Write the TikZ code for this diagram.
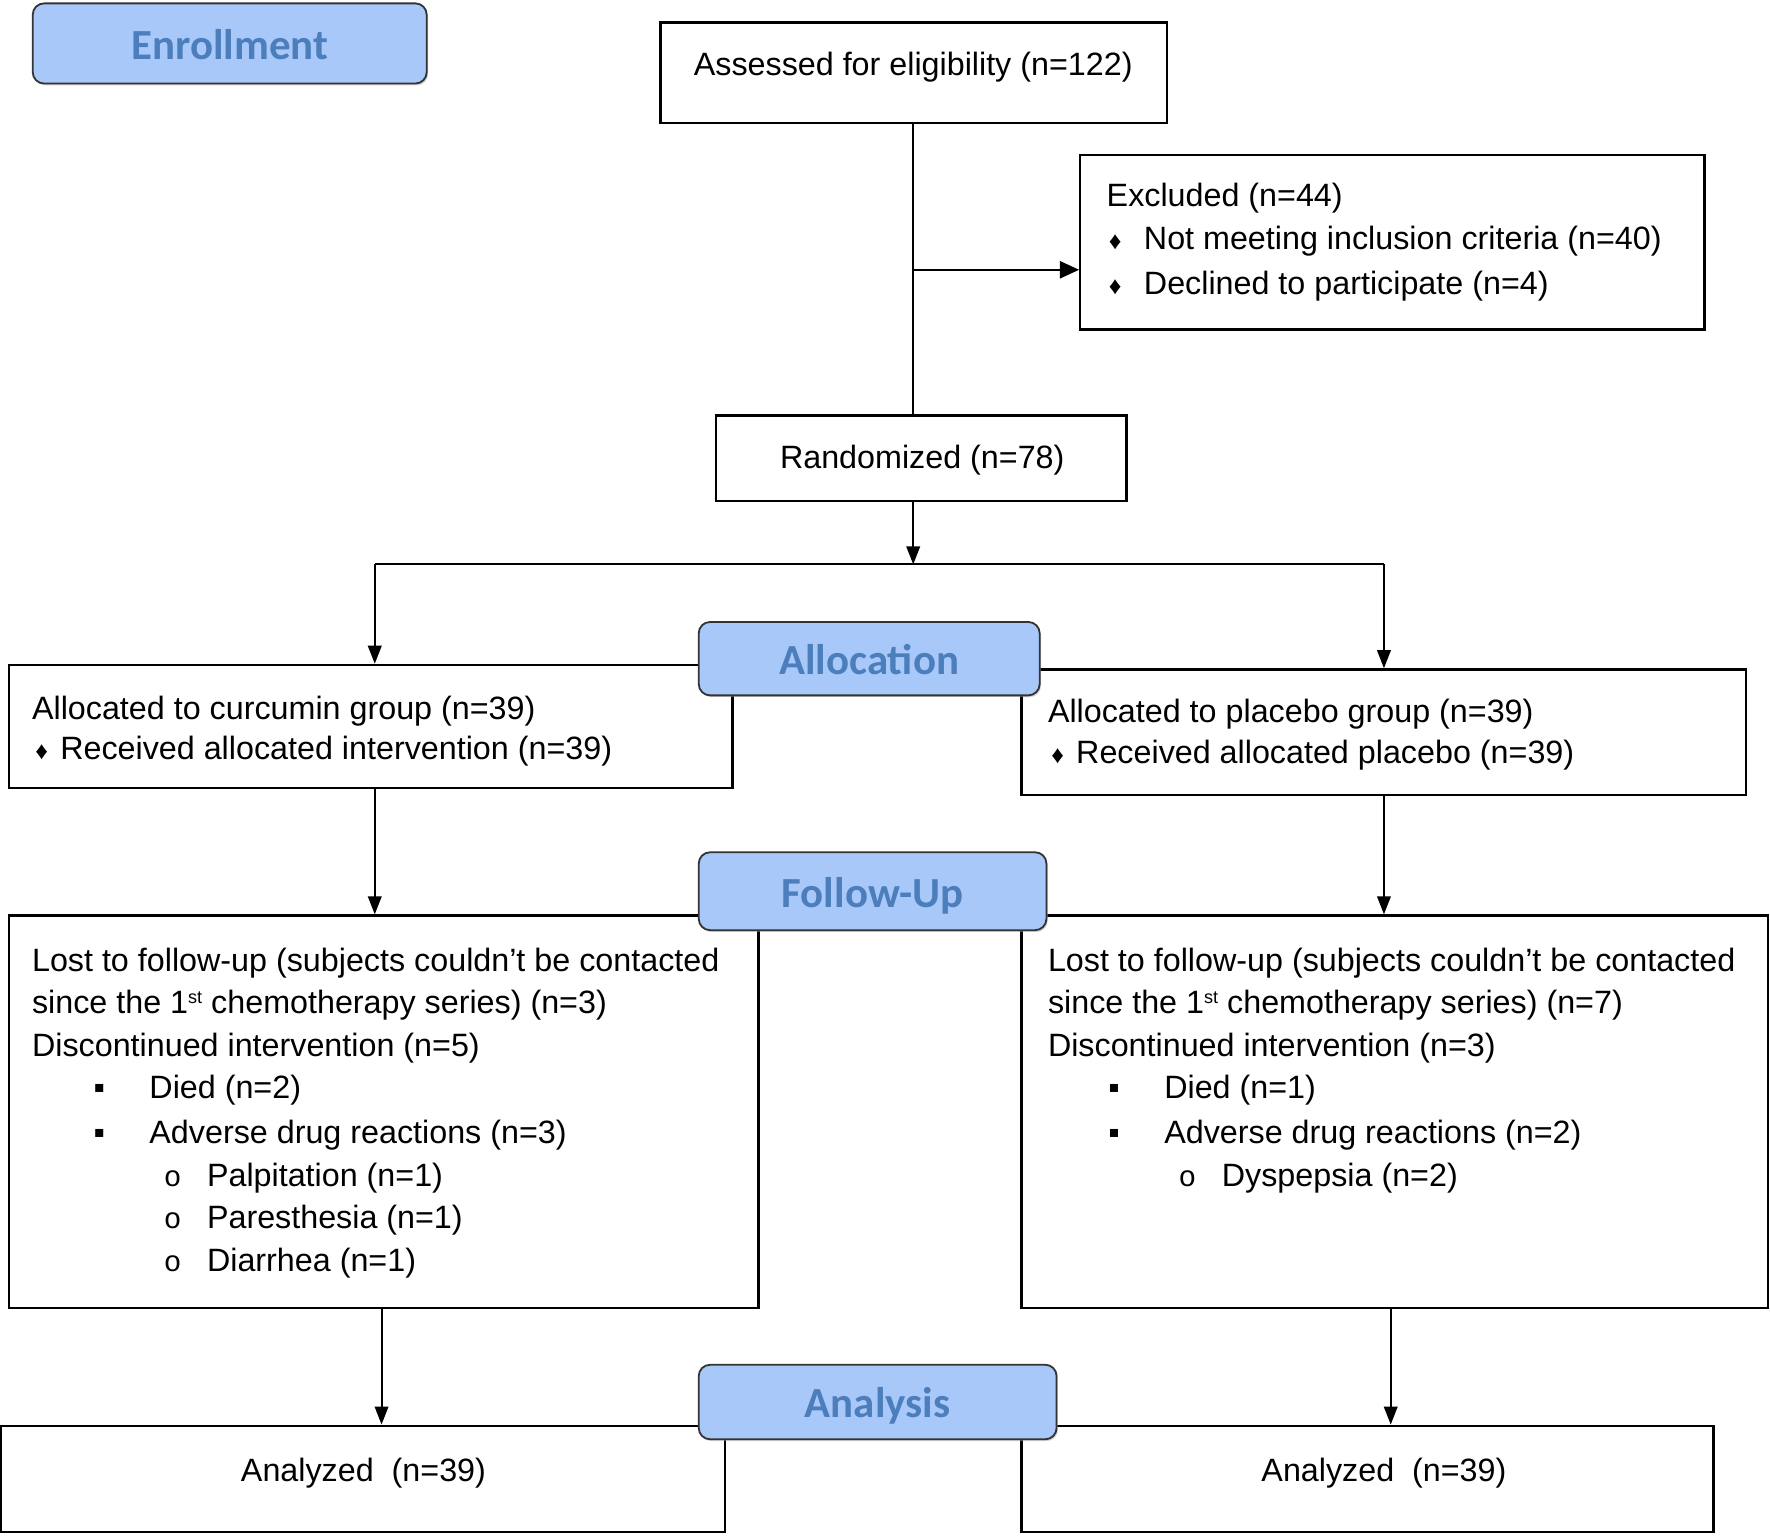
\documentclass[tikz,border=0pt]{standalone}
\usepackage{fontspec}
\setmainfont{Liberation Sans}
\newfontfamily\calib{Carlito}
\newfontfamily\monof{Liberation Mono}
\usetikzlibrary{arrows.meta,fit,shadows}
\definecolor{lblfill}{HTML}{A9C8FA}
\definecolor{lbltext}{HTML}{4C7EBB}
\newcommand{\supst}{\raisebox{4.6pt}{\fontsize{8}{8}\selectfont st}}
\begin{document}
\begin{tikzpicture}[x=0.5pt,y=-0.5pt,
  box/.style={draw, line width=1pt, inner sep=0pt},
  txt/.style={inner sep=0pt, anchor=base west, font=\fontsize{14.3}{17}\selectfont},
  ctxt/.style={inner sep=0pt, anchor=base, font=\fontsize{14.3}{17}\selectfont},
  dia/.style={inner sep=0pt, anchor=base, font=\fontsize{11}{11}\selectfont},
  sqb/.style={inner sep=0pt, anchor=base, font=\fontsize{14.3}{17}\selectfont},
  cirb/.style={inner sep=0pt, anchor=base, font=\monof\fontsize{13}{15}\selectfont},
  conn/.style={line width=0.9pt},
  arr/.style={line width=0.9pt, -{Triangle[length=8pt,width=6pt]}},
  bigarr/.style={line width=1.1pt, -{Triangle[length=8.5pt,width=7.5pt]}},
  stage/.style={draw=black!80, line width=0.8pt, fill=lblfill, rounded corners=5pt,
    text=lbltext, font=\calib\bfseries\fontsize{19}{22}\selectfont,
    text height=1.4em, text depth=0pt, inner sep=0pt,
    drop shadow={shadow xshift=0.6pt, shadow yshift=-0.8pt, fill=black!35}},
]
\fill[white] (0,0) rectangle (1568,1360);
\useasboundingbox (0,0) rectangle (1568,1360);

% boxes
\node[box, fit={(585,20)(1034,109)}] (assess) {};
\node[box, fit={(957,137)(1510,292)}] (excl) {};
\node[box, fit={(634,368)(998,444)}] (rand) {};
\node[box, fit={(8,589)(649,698)}] (lalloc) {};
\node[box, fit={(905,593)(1547,704)}] (ralloc) {};
\node[box, fit={(8,811)(672,1159)}] (lfol) {};
\node[box, fit={(905,811)(1566,1159)}] (rfol) {};
\node[box, fit={(1,1263)(642,1357)}] (lana) {};
\node[box, fit={(905,1263)(1518,1357)}] (rana) {};

% texts
\node[ctxt] (tA) at (809,67) {Assessed for eligibility (n=122)};
\node[txt] (tE1) at (980,183) {Excluded (n=44)};
\node[dia] (bE2) at (988,221) {♦};
\node[txt] (tE2) at (1013,221) {Not meeting inclusion criteria (n=40)};
\node[dia] (bE3) at (988,261) {♦};
\node[txt] (tE3) at (1013,261) {Declined to participate (n=4)};
\node[ctxt] (tR) at (817,415) {Randomized (n=78)};

\node[txt] (tL1) at (28,637) {Allocated to curcumin group (n=39)};
\node[dia] (bL2) at (37,673) {♦};
\node[txt] (tL2) at (53,673) {Received allocated intervention (n=39)};
\node[txt] (tP1) at (928,640) {Allocated to placebo group (n=39)};
\node[dia] (bP2) at (937,676) {♦};
\node[txt] (tP2) at (953,676) {Received allocated placebo (n=39)};

\node[txt] (fL1) at (28,861) {Lost to follow-up (subjects couldn’t be contacted};
\node[txt] (fL2) at (28,898) {since the 1\supst{} chemotherapy series) (n=3)};
\node[txt] (fL3) at (28,936) {Discontinued intervention (n=5)};
\node[sqb] (gL4) at (88,973) {▪};
\node[txt] (fL4) at (132,973) {Died (n=2)};
\node[sqb] (gL5) at (88,1013) {▪};
\node[txt] (fL5) at (132,1013) {Adverse drug reactions (n=3)};
\node[cirb] (gL6) at (153,1051) {o};
\node[txt] (fL6) at (183,1051) {Palpitation (n=1)};
\node[cirb] (gL7) at (153,1088) {o};
\node[txt] (fL7) at (183,1088) {Paresthesia (n=1)};
\node[cirb] (gL8) at (153,1126) {o};
\node[txt] (fL8) at (183,1126) {Diarrhea (n=1)};

\node[txt] (fR1) at (928,861) {Lost to follow-up (subjects couldn’t be contacted};
\node[txt] (fR2) at (928,898) {since the 1\supst{} chemotherapy series) (n=7)};
\node[txt] (fR3) at (928,936) {Discontinued intervention (n=3)};
\node[sqb] (gR4) at (987,973) {▪};
\node[txt] (fR4) at (1031,973) {Died (n=1)};
\node[sqb] (gR5) at (987,1013) {▪};
\node[txt] (fR5) at (1031,1013) {Adverse drug reactions (n=2)};
\node[cirb] (gR6) at (1052,1051) {o};
\node[txt] (fR6) at (1082,1051) {Dyspepsia (n=2)};

\node[ctxt] (aL) at (322,1312) {Analyzed\ \ (n=39)};
\node[ctxt] (aR) at (1226,1312) {Analyzed\ \ (n=39)};

% connector helper coordinates
\coordinate (yEx) at (0,239);
\coordinate (ySplit) at (0,500);
\coordinate (xM) at (809,0);
\coordinate (xL) at (332,0);
\coordinate (xR) at (1226,0);
\coordinate (xLb) at (338,0);
\coordinate (xRb) at (1232,0);
\coordinate (splitL) at (332,500);
\coordinate (splitR) at (1226,500);

% connectors
\draw[conn] (xM |- assess.south) -- (xM |- rand.north);
\draw[bigarr] (xM |- yEx) -- (excl.west |- yEx);
\draw[arr] (xM |- rand.south) -- (xM |- ySplit);
\draw[conn] (splitL) -- (splitR);
\draw[arr] (splitL) -- (xL |- lalloc.north);
\draw[arr] (splitR) -- (xR |- ralloc.north);
\draw[arr] (xL |- lalloc.south) -- (xL |- lfol.north);
\draw[arr] (xR |- ralloc.south) -- (xR |- rfol.north);
\draw[arr] (xLb |- lfol.south) -- (xLb |- lana.north);
\draw[arr] (xRb |- rfol.south) -- (xRb |- rana.north);

% stage labels
\node[stage, minimum width=174.5pt, minimum height=35.5pt] (enr) at (203.5,38.5) {Enrollment};
\node[stage, minimum width=151pt, minimum height=32.5pt] (alloc) at (770,583.5) {Allocation};
\node[stage, minimum width=154pt, minimum height=34.5pt] (fup) at (773,789.5) {Follow-Up};
\node[stage, minimum width=158.5pt, minimum height=33pt] (ana) at (777.5,1242) {Analysis};
\end{tikzpicture}
\end{document}
